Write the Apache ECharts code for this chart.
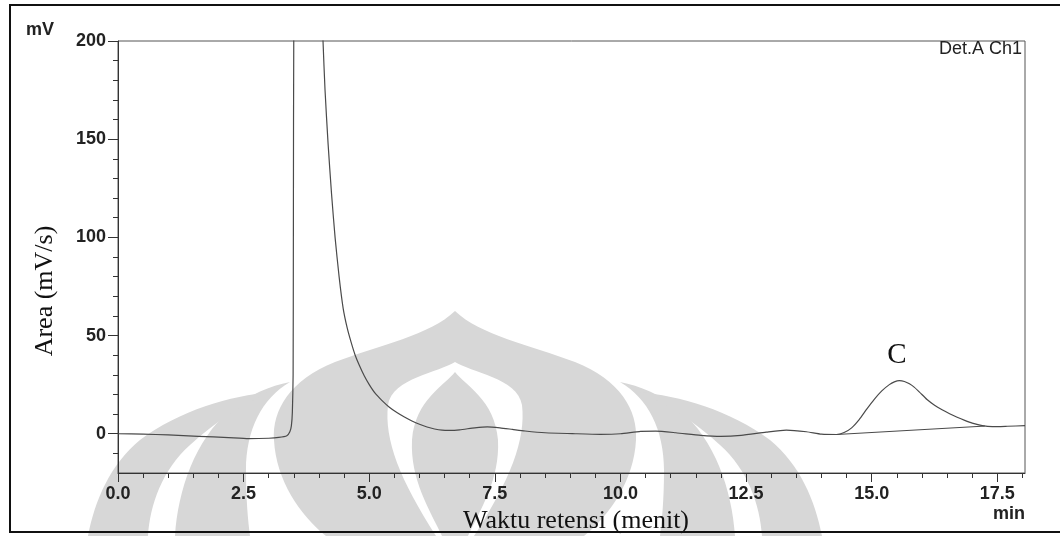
<!DOCTYPE html>
<html>
<head>
<meta charset="utf-8">
<script src="https://cdn.jsdelivr.net/npm/echarts@6/dist/echarts.min.js"></script>
<style>
  html, body { margin: 0; padding: 0; background: #fff; }
  #chart { width: 1060px; height: 536px; }
</style>
</head>
<body>
<div id="chart"></div>
<script>
// waktu retensi (menit) dan sinyal detektor (mV), dibaca dari kromatogram
const timeMin = [0, 0.5, 1.0, 1.6, 2.2, 2.6, 3.0, 3.2, 3.36, 3.42, 3.45, 3.47, 3.485, 3.49, 3.5,
  3.6, 3.9, 4.0, 4.08, 4.12, 4.18, 4.25, 4.32, 4.4, 4.48, 4.56, 4.64, 4.72, 4.8, 4.9, 5.0,
  5.12, 5.25, 5.4, 5.55, 5.7, 5.85, 6.0, 6.15, 6.3, 6.45, 6.6, 6.8, 7.1, 7.35, 7.6, 7.85,
  8.1, 8.5, 9.1, 9.6, 10.0, 10.4, 10.7, 11.1, 11.6, 12.0, 12.4, 12.9, 13.3, 13.7, 14.0, 14.3,
  14.45, 14.6, 14.75, 14.9, 15.05, 15.2, 15.35, 15.45, 15.55, 15.65, 15.75, 15.85, 15.95,
  16.1, 16.25, 16.4, 16.55, 16.7, 16.85, 17.0, 17.2, 17.4, 17.7, 18.05];
const signalMv = [0, -0.2, -0.6, -1.3, -2.0, -2.5, -2.3, -1.9, -1.0, 1.0, 4, 11, 30, 100, 220,
  480, 480, 260, 200, 175, 148, 122, 100, 80, 64, 54, 46.5, 40, 35, 29.5, 25,
  20.5, 17, 13.5, 10.8, 8.5, 6.5, 4.8, 3.4, 2.4, 1.8, 1.7, 2.0, 3.0, 3.5, 3.0, 2.2,
  1.4, 0.5, 0, -0.3, 0, 1.2, 1.3, 0.5, -0.8, -1.3, -0.8, 0.8, 1.8, 1.0, -0.2, -0.4,
  0.6, 3.0, 7.2, 12.5, 17.5, 21.8, 25.0, 26.4, 27.0, 26.6, 25.4, 23.6, 21.2,
  17.4, 14.5, 12.2, 10.2, 8.4, 6.8, 5.4, 4.1, 3.6, 3.8, 4.1];

// garis dasar integrasi puncak C
const baseTime = [14.3, 17.25];
const baseMv = [-0.4, 3.9];

// tick sumbu
const xMajor = [0, 2.5, 5, 7.5, 10, 12.5, 15, 17.5];
const xMinor = [0.5, 1, 1.5, 2, 3, 3.5, 4, 4.5, 5.5, 6, 6.5, 7, 8, 8.5, 9, 9.5, 10.5, 11, 11.5,
  12, 13, 13.5, 14, 14.5, 15.5, 16, 16.5, 17, 18];
const yMajor = [0, 50, 100, 150, 200];
const yMinor = [-10, 10, 20, 30, 40, 60, 70, 80, 90, 110, 120, 130, 140, 160, 170, 180, 190];

const sans = "'Liberation Sans', Arial, sans-serif";
const serif = "'Liberation Serif', 'Times New Roman', serif";
const ink = '#333';
const wm = '#d7d7d7';

const chart = echarts.init(document.getElementById('chart'));

const mainX = {
  type: 'value', min: 0, max: 18.05, position: 'bottom',
  axisLine: { onZero: false, lineStyle: { color: ink, width: 1 } },
  axisTick: { customValues: xMajor, length: 9, lineStyle: { color: ink } },
  axisLabel: {
    customValues: xMajor, margin: 12, color: '#222',
    fontFamily: sans, fontSize: 18, fontWeight: 'bold',
    formatter: v => v.toFixed(1)
  },
  splitLine: { show: false }
};
const minorX = {
  type: 'value', min: 0, max: 18.05, position: 'bottom',
  axisLine: { show: false, onZero: false },
  axisTick: { customValues: xMinor, length: 5, lineStyle: { color: ink } },
  axisLabel: { show: false },
  splitLine: { show: false }
};
const mainY = {
  type: 'value', min: -20, max: 200, position: 'left',
  axisLine: { show: true, onZero: false, lineStyle: { color: ink, width: 1 } },
  axisTick: { show: true, customValues: yMajor, length: 10, lineStyle: { color: ink } },
  axisLabel: {
    customValues: yMajor, margin: 12, color: '#222',
    fontFamily: sans, fontSize: 18, fontWeight: 'bold'
  },
  splitLine: { show: false }
};
const minorY = {
  type: 'value', min: -20, max: 200, position: 'left',
  axisLine: { show: false, onZero: false },
  axisTick: { show: true, customValues: yMinor, length: 5, lineStyle: { color: ink } },
  axisLabel: { show: false },
  splitLine: { show: false }
};

// logo watermark di latar belakang (abu-abu muda), koordinat piksel
const logoPaths = [
  'M455,311 C430,335 380,345 335,362 C290,380 272,410 274,440 C276,480 300,515 326,536 L584,536 C610,515 634,480 636,440 C638,410 620,380 575,362 C530,345 480,335 455,311 Z',
  'M290,382 C262,398 246,430 246,470 C246,500 248,520 250,536 L175,536 C178,490 195,440 230,410 C250,394 270,386 290,382 Z',
  'M620,382 C648,398 664,430 664,470 C664,500 662,520 660,536 L735,536 C732,490 715,440 680,410 C660,394 640,386 620,382 Z',
  'M272,392 C230,396 180,410 140,440 C110,465 95,500 88,536 L148,536 C150,505 162,470 190,445 C215,422 245,402 272,392 Z',
  'M638,392 C680,396 730,410 770,440 C800,465 815,500 822,536 L762,536 C760,505 748,470 720,445 C695,422 665,402 638,392 Z'
];
const lens = 'M455,362 C440,372 392,378 388,405 C384,440 400,480 436,536 L474,536 C510,480 526,440 522,405 C518,378 470,372 455,362 Z';
const flame = 'M455,372 C445,385 415,400 412,440 C410,480 430,510 442,536 L468,536 C480,510 500,480 498,440 C495,400 465,385 455,372 Z';

const option = {
  animation: false,
  backgroundColor: '#fff',
  grid: {
    left: 118, top: 41, right: 35, bottom: 63,
    show: true, borderColor: '#555', borderWidth: 1, backgroundColor: 'transparent'
  },
  xAxis: [mainX, minorX],
  yAxis: [mainY, minorY],
  graphic: [
    {
      type: 'rect', silent: true, shape: { x: 10, y: 5, width: 1070, height: 527 },
      style: { fill: 'none', stroke: '#111', lineWidth: 2 }
    },
    { type: 'text', left: 26, top: 21, style: { text: 'mV', font: `bold 18px ${sans}`, fill: '#222' } },
    {
      type: 'text', right: 38, top: 40,
      style: { text: 'Det.A Ch1', font: `18px ${sans}`, fill: '#222' }
    },
    {
      type: 'text', right: 35, top: 505,
      style: { text: 'min', font: `bold 18px ${sans}`, fill: '#222' }
    },
    {
      type: 'text', x: 45, y: 291, rotation: Math.PI / 2,
      style: { text: 'Area (mV/s)', font: `26px ${serif}`, fill: '#111', align: 'center', verticalAlign: 'middle' }
    },
    {
      type: 'text', x: 576, y: 521,
      style: { text: 'Waktu retensi (menit)', font: `26px ${serif}`, fill: '#111', align: 'center', verticalAlign: 'middle' }
    },
    {
      type: 'text', x: 897, y: 355,
      style: { text: 'C', font: `29px ${serif}`, fill: '#111', align: 'center', verticalAlign: 'middle' }
    }
  ],
  series: [
    {
      type: 'custom',
      coordinateSystem: 'none',
      silent: true,
      z: -1,
      data: [0],
      renderItem: () => ({
        type: 'group',
        children: logoPaths.map(d => ({ type: 'path', shape: { pathData: d }, style: { fill: wm } }))
          .concat([
            { type: 'path', shape: { pathData: lens }, style: { fill: '#fff' } },
            { type: 'path', shape: { pathData: flame }, style: { fill: wm } }
          ])
      })
    },
    {
      type: 'line',
      data: timeMin.map((t, i) => [t, signalMv[i]]),
      showSymbol: false,
      smooth: 0.2,
      clip: true,
      lineStyle: { color: '#4a4a4a', width: 1.2 },
      z: 3
    },
    {
      type: 'line',
      data: baseTime.map((t, i) => [t, baseMv[i]]),
      showSymbol: false,
      clip: true,
      lineStyle: { color: '#4a4a4a', width: 1 },
      z: 3
    }
  ]
};

chart.setOption(option);
</script>
</body>
</html>
